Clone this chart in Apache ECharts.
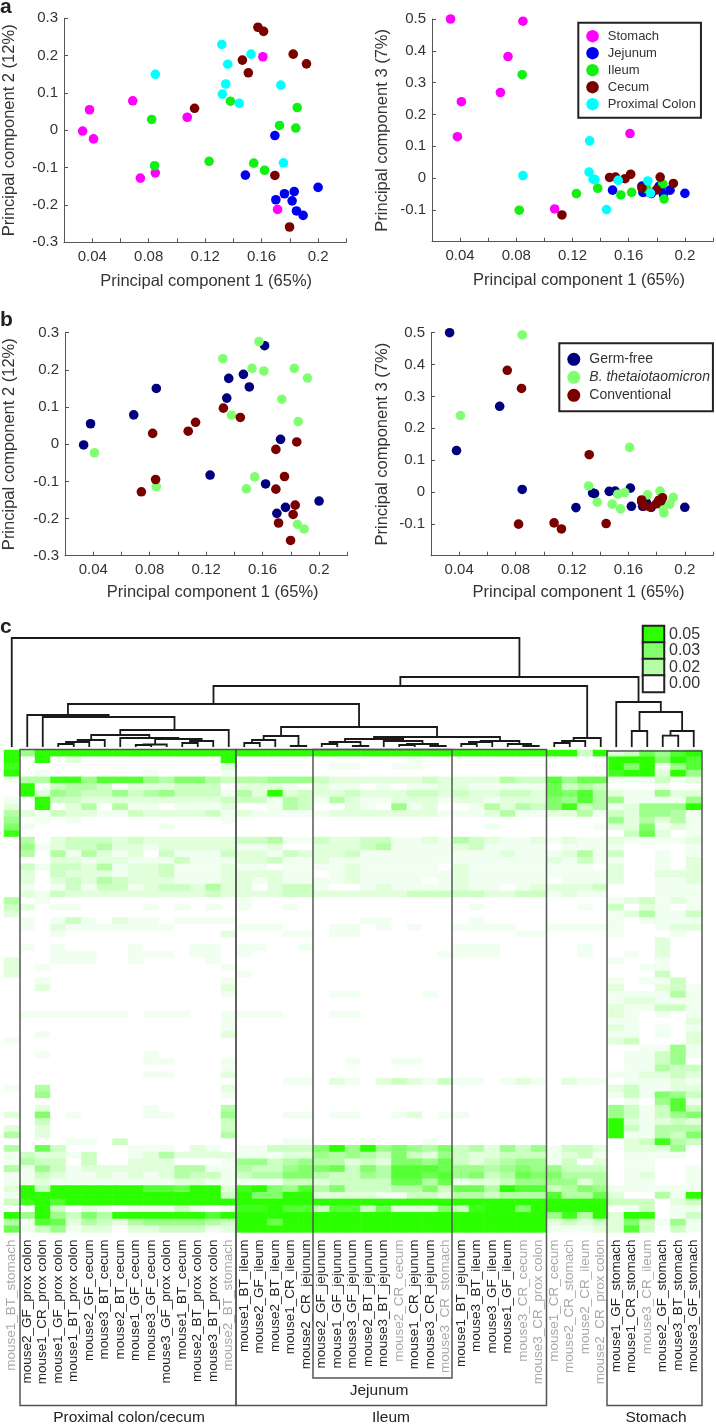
<!DOCTYPE html>
<html><head><meta charset="utf-8">
<style>html,body{margin:0;padding:0;background:#fff}#c{width:716px;height:1426px;filter:blur(0.45px)}</style>
<script src="https://cdn.jsdelivr.net/npm/echarts@6/dist/echarts.min.js"></script>
</head><body><div id="c"></div>
<script>
// ---------- PCA samples ----------
const sampleTissue = ['Stomach','Stomach','Stomach','Stomach','Stomach','Stomach','Stomach','Stomach','Stomach',
 'Jejunum','Jejunum','Jejunum','Jejunum','Jejunum','Jejunum','Jejunum','Jejunum','Jejunum',
 'Ileum','Ileum','Ileum','Ileum','Ileum','Ileum','Ileum','Ileum','Ileum',
 'Cecum','Cecum','Cecum','Cecum','Cecum','Cecum','Cecum','Cecum','Cecum',
 'Proximal Colon','Proximal Colon','Proximal Colon','Proximal Colon','Proximal Colon','Proximal Colon','Proximal Colon','Proximal Colon','Proximal Colon'];
const sampleCondition = ['G','G','B','G','R','B','R','B','R',
 'B','R','G','G','R','R','B','B','G',
 'R','R','G','B','B','G','G','R','B',
 'R','G','G','B','G','R','R','B','B',
 'G','B','R','G','G','R','B','B','R'];
const pc1 = [.0332,.0381,.0409,.0687,.0741,.0847,.1073,.1609,.1713,
 .1485,.1694,.1701,.1762,.1831,.1816,.1847,.1894,.2,
 .0821,.0842,.1228,.1379,.1544,.1621,.1727,.1842,.1852,
 .1125,.1464,.1506,.1574,.1614,.1694,.1798,.1824,.1918,
 .0847,.1318,.1322,.1346,.136,.1442,.1525,.1736,.1755];
const pc2 = [-.002,.055,-.023,.079,-.128,-.114,.035,.197,-.212,
 -.12,-.014,-.186,-.17,-.164,-.189,-.216,-.228,-.153,
 .029,-.095,-.083,.078,-.088,-.107,.013,.006,.061,
 .059,.188,.154,.276,.265,-.121,-.259,.204,.178,
 .15,.23,.097,.124,.177,.072,.204,.121,-.087];
const pc3 = [.5,.13,.24,.269,.382,.493,-.097,.14,-.044,
 -.038,-.025,-.045,-.048,-.028,-.026,-.052,-.038,-.048,
 -.101,.325,-.049,-.032,-.053,-.045,-.033,-.018,-.066,
 -.116,.002,.003,-.002,.012,-.031,-.037,.003,-.017,
 .008,.019,.117,-.003,-.005,-.099,-.007,-.009,-.047];
const tissues = ['Stomach','Jejunum','Ileum','Cecum','Proximal Colon'];
const tissueColors = ['#ff00ff','#0000f0','#12f012','#7a0000','#00ffff'];
const conditionKeys = ['G','B','R'];
const conditions = ['Germ-free','B. thetaiotaomicron','Conventional'];
const conditionColors = ['#00007f','#80ff70','#7a0000'];

// ---------- Heat map ----------
const columnLabels = ['mouse1_BT_stomach',
 'mouse2_GF_prox colon','mouse1_CR_prox colon','mouse1_GF_prox colon','mouse1_BT_prox colon','mouse2_GF_cecum','mouse3_BT_cecum','mouse2_BT_cecum','mouse1_GF_cecum','mouse3_GF_cecum','mouse3_GF_prox colon','mouse1_BT_cecum','mouse2_BT_prox colon','mouse3_BT_prox colon','mouse2_BT_stomach',
 'mouse1_BT_ileum','mouse2_GF_ileum','mouse2_BT_ileum','mouse1_CR_ileum','mouse2_CR_jejunum',
 'mouse2_GF_jejunum','mouse1_GF_jejunum','mouse3_GF_jejunum','mouse2_BT_jejunum','mouse3_BT_jejunum','mouse2_CR_cecum','mouse1_CR_jejunum','mouse3_CR_jejunum','mouse3_CR_stomach',
 'mouse1_BT_jejunum','mouse3_BT_ileum','mouse3_GF_ileum','mouse1_GF_ileum','mouse3_CR_cecum','mouse3_CR_prox colon',
 'mouse1_CR_cecum','mouse2_CR_stomach','mouse2_CR_ileum','mouse2_CR_prox colon',
 'mouse1_GF_stomach','mouse1_CR_stomach','mouse3_CR_ileum','mouse2_GF_stomach','mouse3_BT_stomach','mouse3_GF_stomach'];
const grayColumns = ['mouse1_BT_stomach','mouse2_BT_stomach','mouse2_CR_cecum','mouse3_CR_stomach','mouse3_CR_cecum','mouse3_CR_prox colon','mouse1_CR_cecum','mouse2_CR_stomach','mouse2_CR_ileum','mouse2_CR_prox colon','mouse3_CR_ileum'];
// One string per row; each character is a level (a = 10) in steps of 0.005. Groups follow the boxed clusters; short groups end in zeros.
const clusterSizes = [1,14,5,9,6,4,6];
const heatRows = [
"a 5aaaaaaaaaaaaa aaaaa aaaaaaaaa aaaaaa aa3a 23758a",
"a 0a02000000000a 0 000000100 0 0 aaa6a8",
"9 00000000000002 0 011001100 0 0 a6a158",
"a 01000000100001 0 0 0 0 9aa2a5",
"1 44995888546643 44555 322222232 222433 8577 111312",
"0 a0344302223330 22210 211010112 211111 7343 000100",
"0 a2543353453331 42a23 223222332 322332 7684 211522",
"1 0a332222222223 33143 142112221 221222 6584 511115",
"2 0a024041101112 00143 002105120 014243 6934 12555a",
"4 21322113222231 21111 122222221 112411 2241 325541",
"5 01010000000001 0 0 0 0 524241",
"6 10000000010000 0 0 001 0001 226121",
"9 0 0 0 0 0 037201",
"0 40233323222222 33411 322331121 432112 1211 211112",
"0 51233422122222 11200 222341111 231111 0111 100001",
"0 40414212031113 22132 223111111 111211 1241 300101",
"0 00221221113111 22311 211111111 111111 2131 100102",
"0 31332412231112 11011 112111110 211111 1110 200102",
"0 20322212231112 22211 012111111 211111 1111 200222",
"0 20232432221112 21211 112111101 211111 0111 200112",
"0 10131331233242 20233 100121111 211012 2223 000111",
"0 21322222222232 22233 222222333 332233 1211 000111",
"4 01 1 0 0 0 123121",
"3 20110000101010 10010 0 01 001 302101",
"2 0 0 0 0 0 124113",
"0 10131021101111 0 00011 01 0 101111",
"0 10211111110000 11100 011010100 111100 1111 100122",
"0 00100000000002 00011 011 000011 0 100010",
"0 0 0 0 0 0 0002",
"0 10100001000110 11001 0 111 0010 0002",
"0 00111001110110 10000 000000001 111 0010 010200",
"2 00111001000010 0 0 0 0 100100",
"2 01000000000001 0 0 0 0 001100",
"2 0 1 0 0 0 000300",
"0 01000000000001 0 0 0 0 101130",
"0 02000000000002 0 0 0 0 200231",
"0 00000000000001 0 011000010 0 0 111141",
"0 0 0 0 0 0 122111",
"0 0 0 0 0 0 211331",
"0 11111110111001 111 011 0 0 210101",
"0 00000000000001 0 0 0 0 110002",
"0 00000000000001 0 0 0 0 210101",
"0 01000000000002 0 0 0 0 110102",
"1 0 0 0 0 0 230002",
"0 0 0 0 0 0 001151",
"0 01000000100000 0 0 0 0 011351",
"0 00000000110001 0 001001100 0 0 011350",
"0 00000000000001 0 0 0 0 011433",
"0 00000000110002 0 0 0 0 112232",
"0 0 00011 021023213 110121 0211 011121",
"1 04000000000002 0 0 0 0 231122",
"0 05000000000001 0 0 0 0 131653",
"0 0 0 0 0 0 010581",
"0 02000000100004 0 0 0 0 531383",
"2 06010000110005 00011 011001201 1 0 531356",
"0 03000000000003 0 0 0 0 a21232",
"2 02000000000003 0 0 0 0 a31444",
"4 02000000000004 0 0 0 0 a11436",
"0 00011030000000 00011 000100010 0 0 023943",
"4 07300001110210 11333 6a5a56546 342535 1332 022250",
"1 32213001242222 11122 545436325 322333 1231 011110",
"1 43303002220001 55345 442326657 323455 1302 011000",
"4 15312222224411 43356 673648887 554565 5333 011001",
"1 13211212124331 34466 433548878 563476 6444 012001",
"1 12111111112211 11133 233337747 122355 5524 011001",
"2 a3aaaaaa887aa2 9a658 463334463 774a88 3465 111111",
"1 aaaaaaaaaaaaa3 a66aa 222211332 443444 8447 20041a",
"3 9a8aaaaaaaaaaa aaaaa aaaaaaaaa aaaaaa aaaa 333023",
"0 0a302101113101 99a88 388372226 39aa6a aaaa 013011",
"a 5a5364aaaaaa8a aaaaa aaaaaaaaa aaaaaa 594a 2aa013",
"4 18724324555543 aa7aa aaaaaaaaa aaaaaa 2323 263151",
"7 13512202233312 aaaaa aaaaaaaaa aaaaaa 1112 283031"
];
const keyLabels = ['0.05','0.03','0.02','0.00'];
const keyValues = [0.05,0.03,0.02,0];
const heatRamp = ['#ffffff','#f1fff0','#e0ffda','#ccffc2','#b4ffa6','#9cff8a','#84ff6c','#6cff50','#54ff34','#40ff1a','#2bff00'];

// ---------- Dendrogram: [child, child, height]; children below 45 are leaves, others refer to merge (index - 45) ----------
const leafHeight = 3;
const dendroMerges = [
[3,4,6],[45,5,8],[46,6,10],[8,9,5],[48,10,5.5],[11,12,7],[50,13,9],[49,51,11],[7,52,12],[47,53,15],[54,14,20],[2,55,33],[1,56,35],
[15,16,7],[58,17,10],[18,19,4],[59,60,14],
[20,21,6],[22,23,4],[62,63,8],[25,26,5],[27,28,4],[65,66,6],[24,67,9],[64,68,11],
[29,30,6],[70,31,8],[33,34,4],[32,72,6],[71,73,9],[69,74,13],[61,75,23],[57,76,46],
[35,36,7],[78,37,9],[79,38,12],[77,80,64],
[40,41,19],[42,43,14.4],[83,44,19],[82,84,38],[39,85,48],[81,86,73],[0,87,112]
];

// ---------- Build ----------
const font = 'Liberation Sans';
const ink = '#333';
const heatData = [];
heatRows.forEach((row, r) => {
  const cells = row.split(' ').map((g, i) => g.padEnd(clusterSizes[i], '0')).join('');
  [...cells].forEach((ch, c) => heatData.push([c, r, parseInt(ch, 16) * 0.005]));
});
const nodeX = k => k < 45 ? k + 0.5 : mergeX[k - 45];
const nodeH = k => k < 45 ? leafHeight : dendroMerges[k - 45][2];
const mergeX = [];
const dendroData = dendroMerges.map(([a, b, h], i) => {
  const xa = nodeX(a), xb = nodeX(b);
  mergeX[i] = (xa + xb) / 2;
  return [xa, xb, h, nodeH(a), nodeH(b)];
});

const grids = [
  {left:63.3, width:283, top:18.3, height:224},
  {left:432, width:284, top:19, height:222.7},
  {left:64, width:283.3, top:332.7, height:223},
  {left:431, width:284, top:332.7, height:223},
  {left:4, width:697.5, top:750, height:482.4},
  {left:4, width:697.5, top:635, height:115},
  {left:643, width:21, top:626, height:66}
];
const pcName = n => 'Principal component ' + n;
function xValueAxis(gi, gap) {
  return {gridIndex:gi, type:'value', min:0.02, max:0.22, interval:0.02,
    name:pcName('1 (65%)'), nameLocation:'middle', nameGap:gap,
    nameTextStyle:{fontFamily:font, fontSize:16.5, color:ink, padding:[0,0,0,gi===0?2:13]},
    axisLine:{onZero:false, lineStyle:{color:'#555', width:1}},
    axisTick:{inside:true, length:4, lineStyle:{color:'#555'}},
    splitLine:{show:false},
    axisLabel:{margin:7, fontFamily:font, fontSize:15, color:ink, showMinLabel:true, showMaxLabel:true,
      formatter:v => Math.round(v*100)%4===0 ? String(+v.toFixed(2)) : ''}};
}
function yValueAxis(gi, min, max, label, gap, hideMin) {
  return {gridIndex:gi, type:'value', min, max, interval:0.1,
    name:label, nameLocation:'middle', nameGap:gap,
    nameTextStyle:{fontFamily:font, fontSize:16.5, color:ink},
    axisLine:{onZero:false, show:true, lineStyle:{color:'#555', width:1}},
    axisTick:{show:true, inside:true, length:4, lineStyle:{color:'#555'}},
    splitLine:{show:false},
    axisLabel:{margin:6, fontFamily:font, fontSize:15, color:ink,
      formatter:v => (hideMin && Math.abs(v-min)<1e-6) ? '' : String(+v.toFixed(1))}};
}
function scatter(name, color, gi, yVals, test) {
  const data = [];
  pc1.forEach((x, i) => { if (test(i)) data.push([x, yVals[i]]); });
  return {type:'scatter', name, xAxisIndex:gi, yAxisIndex:gi, data, symbolSize:9.6, itemStyle:{color, opacity:1}, silent:true};
}
const series = [];
[[0,pc2],[1,pc3]].forEach(([gi,vals]) => tissues.forEach((t,k) => series.push(scatter(t, tissueColors[k], gi, vals, i => sampleTissue[i]===t))));
[[2,pc2],[3,pc3]].forEach(([gi,vals]) => conditions.forEach((t,k) => series.push(scatter(t, conditionColors[k], gi, vals, i => sampleCondition[i]===conditionKeys[k]))));
const heatIndex = series.length;
series.push({type:'heatmap', xAxisIndex:4, yAxisIndex:4, data:heatData, silent:true, progressive:0, itemStyle:{borderWidth:0}});
series.push({type:'custom', xAxisIndex:5, yAxisIndex:5, data:dendroData, silent:true, clip:false,
  encode:{x:[0,1], y:[2,3,4]},
  renderItem:(p, api) => {
    const xa=api.value(0), xb=api.value(1), h=api.value(2), ha=api.value(3), hb=api.value(4);
    return {type:'polyline', shape:{points:[api.coord([xa,ha]),api.coord([xa,h]),api.coord([xb,h]),api.coord([xb,hb])]},
      style:{stroke:'#1a1a1a', lineWidth:1.8, fill:null}};
  }});
const keyIndex = series.length;
series.push({type:'heatmap', xAxisIndex:6, yAxisIndex:6, silent:true,
  data:keyValues.map((v,i)=>[0,i,v]),
  itemStyle:{borderColor:'#222', borderWidth:2}});

const legendBase = {orient:'vertical', icon:'circle', selectedMode:false, backgroundColor:'#fff',
  borderColor:'#222', borderWidth:2, borderRadius:0, itemGap:4};

const box = (x,y,w,h) => ({type:'rect', silent:true, z:50, shape:{x,y,width:w,height:h}, style:{fill:null, stroke:'#555', lineWidth:1.5}});
const txt = (text,x,y,size,weight,align) => ({type:'text', silent:true, z:50, style:{text, x, y, fill:'#222',
  font:(weight||'normal')+' '+size+'px "'+font+'"', textAlign:align||'center', textVerticalAlign:'middle'}});

const chart = echarts.init(document.getElementById('c'), null, {renderer:'canvas', width:716, height:1426});
chart.setOption({
  animation:false, backgroundColor:'#fff',
  textStyle:{fontFamily:font},
  grid:grids.map(g => ({...g, containLabel:false})),
  xAxis:[
    xValueAxis(0,31), xValueAxis(1,30), xValueAxis(2,28.6), xValueAxis(3,28.6),
    {gridIndex:4, type:'category', data:columnLabels, position:'bottom',
      axisLine:{show:false}, axisTick:{show:false}, splitArea:{show:false},
      axisLabel:{interval:0, rotate:90, margin:7, fontFamily:font, fontSize:13.5,
        color:(v)=>grayColumns.includes(v)?'#a8a8a8':'#222'}},
    {gridIndex:5, type:'value', min:0, max:45, show:false},
    {gridIndex:6, type:'category', data:['k'], show:false}
  ],
  yAxis:[
    yValueAxis(0,-0.3,0.3,pcName('2 (12%)'),46,false),
    yValueAxis(1,-0.2,0.5,pcName('3 (7%)'),41,true),
    yValueAxis(2,-0.3,0.3,pcName('2 (12%)'),47,false),
    yValueAxis(3,-0.2,0.5,pcName('3 (7%)'),40,true),
    {gridIndex:4, type:'category', inverse:true, data:heatRows.map((_,i)=>i), show:false},
    {gridIndex:5, type:'value', min:0, max:115, show:false},
    {gridIndex:6, type:'category', inverse:true, data:[0,1,2,3], position:'right',
      axisLine:{show:false}, axisTick:{show:false},
      axisLabel:{interval:0, margin:5, fontFamily:font, fontSize:16, color:ink, formatter:(v,i)=>keyLabels[i]}}
  ],
  visualMap:{show:false, type:'continuous', min:0, max:0.05, seriesIndex:[heatIndex,keyIndex], calculable:false,
    inRange:{color:heatRamp}},
  legend:[
    {...legendBase, left:578.3, top:22.7, padding:[7,5,7,8], itemWidth:12.5, itemHeight:12.5,
      textStyle:{fontFamily:font, fontSize:13, color:ink, padding:[0,0,0,4]}, data:tissues},
    {...legendBase, left:559.3, top:343.3, padding:[9,3,9,8], itemWidth:13, itemHeight:13,
      textStyle:{fontFamily:font, fontSize:14, color:ink, padding:[0,0,0,4]},
      data:conditions.map((n,i)=> i===1 ? {name:n, textStyle:{fontStyle:'italic'}} : {name:n})}
  ],
  series,
  graphic:[
    box(20,749.5,216,656), box(236,749.5,310.5,656), box(313,749.5,139,628.5), box(607,751,95,654.5),
    txt('Proximal colon/cecum',129,1418,15.5), txt('Jejunum',379,1391,15.5), txt('Ileum',391,1418,15.5), txt('Stomach',656,1418,15.5),
    txt('a',0,7,21,'bold','left'), txt('b',0,320,21,'bold','left'), txt('c',0,627,21,'bold','left')
  ]
});
</script></body></html>
